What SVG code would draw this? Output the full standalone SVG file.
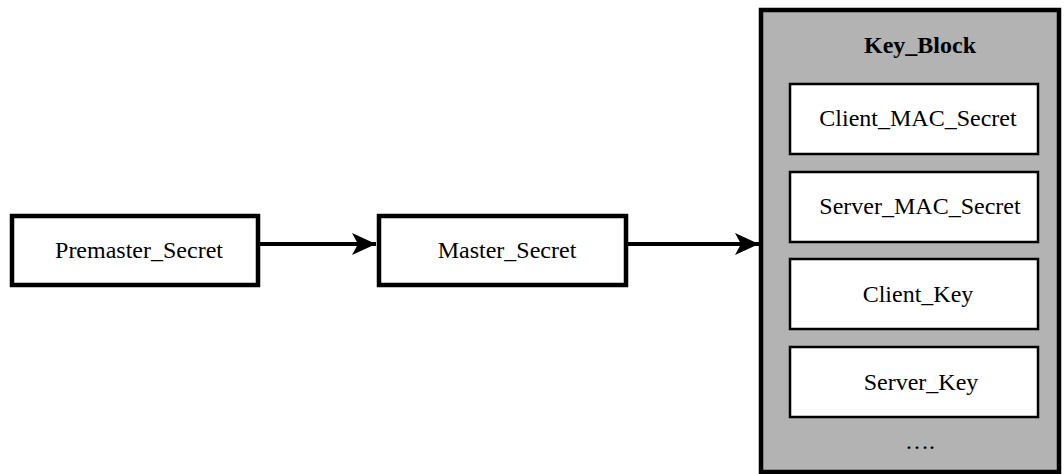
<svg xmlns="http://www.w3.org/2000/svg" width="1064" height="474" viewBox="0 0 1064 474">
  <style>
    .box { fill: #ffffff; stroke: #000000; stroke-width: 4.5; }
    .inner { fill: #ffffff; stroke: #000000; stroke-width: 2.5; }
    .group { fill: #b3b3b3; stroke: #000000; stroke-width: 4.5; }
    .label { font-family: "Liberation Serif", "Times New Roman", serif; font-size: 24px; fill: #000000; text-anchor: middle; }
    .title { font-weight: bold; }
    .edge { stroke: #000000; stroke-width: 4; fill: none; }
  </style>
  <defs>
    <marker id="arrow" markerUnits="userSpaceOnUse" markerWidth="26" markerHeight="22" refX="24" refY="11" orient="auto">
      <path d="M0,0 L24,11 L0,22 L6,11 Z" fill="#000000"/>
    </marker>
  </defs>

  <!-- connectors -->
  <g id="connectors">
    <line class="edge" x1="260" y1="244" x2="376" y2="244" marker-end="url(#arrow)"/>
    <line class="edge" x1="628" y1="244" x2="759" y2="244" marker-end="url(#arrow)"/>
  </g>

  <g id="premaster">
    <rect class="box" x="12" y="216" width="246" height="69"/>
    <text class="label" x="139" y="258">Premaster_Secret</text>
  </g>

  <g id="master">
    <rect class="box" x="379" y="216" width="247" height="69"/>
    <text class="label" x="507" y="258">Master_Secret</text>
  </g>

  <g id="key_block">
    <rect class="group" x="761" y="10" width="298" height="462"/>
    <text class="label title" x="920" y="53">Key_Block</text>

    <g id="client_mac_secret">
      <rect class="inner" x="790" y="84" width="248" height="70"/>
      <text class="label" x="918" y="126">Client_MAC_Secret</text>
    </g>
    <g id="server_mac_secret">
      <rect class="inner" x="790" y="172" width="248" height="70"/>
      <text class="label" x="920" y="214">Server_MAC_Secret</text>
    </g>
    <g id="client_key">
      <rect class="inner" x="790" y="259" width="248" height="70"/>
      <text class="label" x="918" y="302">Client_Key</text>
    </g>
    <g id="server_key">
      <rect class="inner" x="790" y="347" width="248" height="70"/>
      <text class="label" x="921" y="390">Server_Key</text>
    </g>
    <text class="label" x="920" y="449">….</text>
  </g>
</svg>
